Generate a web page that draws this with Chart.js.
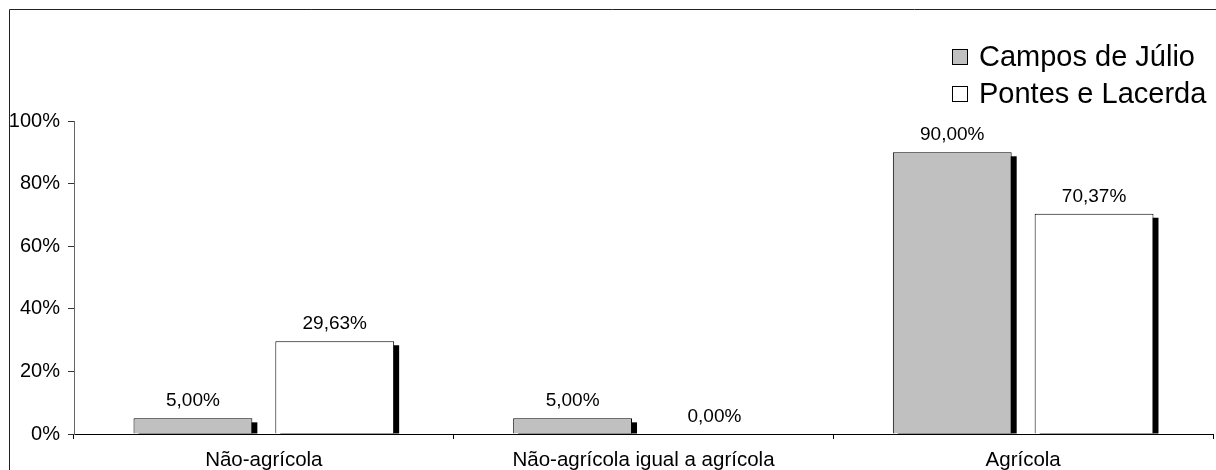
<!DOCTYPE html>
<html>
<head>
<meta charset="utf-8">
<script src="https://cdn.jsdelivr.net/npm/chart.js@4/dist/chart.umd.min.js"></script>
<style>
  html, body { margin: 0; padding: 0; background: #fff; }
  #wrap { width: 1216px; height: 470px; }
</style>
</head>
<body>
<div id="wrap"><canvas id="c" width="1216" height="470"></canvas></div>
<script>
// Categories and series values (percent)
const categories = ['Não-agrícola', 'Não-agrícola igual a agrícola', 'Agrícola'];
const seriesNames = ['Campos de Júlio', 'Pontes e Lacerda'];
const camposJulio = [5.00, 5.00, 90.00];
const pontesLacerda = [29.63, 0.00, 70.37];
const yTicks = [0, 20, 40, 60, 80, 100];

const FONT = "'Liberation Sans', Arial, sans-serif";
const fmtPct = v => v.toFixed(2).replace('.', ',') + '%';

// Thin frame along the top and left edges of the figure
const framePlugin = {
  id: 'frame',
  beforeDraw(chart) {
    const ctx = chart.ctx;
    ctx.save();
    ctx.fillStyle = '#fff';
    ctx.fillRect(0, 0, chart.width, chart.height);
    ctx.strokeStyle = '#222';
    ctx.lineWidth = 1;
    ctx.beginPath();
    ctx.moveTo(9.5, chart.height);
    ctx.lineTo(9.5, 9.5);
    ctx.lineTo(chart.width, 9.5);
    ctx.stroke();
    ctx.restore();
  }
};

// Black drop shadow to the lower right of each bar
const shadowPlugin = {
  id: 'barShadow',
  beforeDatasetsDraw(chart) {
    const ctx = chart.ctx;
    ctx.save();
    ctx.fillStyle = '#000';
    chart.data.datasets.forEach((ds, i) => {
      const meta = chart.getDatasetMeta(i);
      meta.data.forEach((el, j) => {
        if (!(ds.data[j] > 0)) return;
        const p = el.getProps(['x', 'y', 'base', 'width'], true);
        const h = p.base - p.y - 4;
        if (h <= 0) return;
        ctx.fillRect(p.x - p.width / 2 + 5, p.y + 4, p.width, h);
      });
    });
    ctx.restore();
  }
};

// Value labels above the bars
const valueLabelPlugin = {
  id: 'valueLabels',
  afterDatasetsDraw(chart) {
    const ctx = chart.ctx;
    ctx.save();
    ctx.font = '19px ' + FONT;
    ctx.fillStyle = '#000';
    ctx.textAlign = 'center';
    ctx.textBaseline = 'alphabetic';
    chart.data.datasets.forEach((ds, i) => {
      const meta = chart.getDatasetMeta(i);
      meta.data.forEach((el, j) => {
        const p = el.getProps(['x', 'y'], true);
        ctx.fillText(fmtPct(ds.data[j]), p.x, p.y - 12);
      });
    });
    ctx.restore();
  }
};

// Two-row legend in the upper right corner
const legendPlugin = {
  id: 'cornerLegend',
  afterDraw(chart) {
    const ctx = chart.ctx;
    ctx.save();
    ctx.font = '29px ' + FONT;
    ctx.textBaseline = 'alphabetic';
    ctx.textAlign = 'left';
    chart.data.datasets.forEach((ds, i) => {
      const cy = 57 + i * 37;
      ctx.fillStyle = ds.backgroundColor;
      ctx.fillRect(952.5, cy - 7.5, 15, 15);
      ctx.strokeStyle = '#000';
      ctx.lineWidth = 1;
      ctx.strokeRect(952.5, cy - 7.5, 15, 15);
      ctx.fillStyle = '#000';
      ctx.fillText(ds.label, 979, cy + 9);
    });
    ctx.restore();
  }
};

new Chart(document.getElementById('c'), {
  type: 'bar',
  data: {
    labels: categories,
    datasets: [
      {
        label: seriesNames[0],
        data: camposJulio,
        backgroundColor: '#C0C0C0',
        borderColor: '#000',
        borderWidth: 1,
        categoryPercentage: 0.747,
        barPercentage: 0.838
      },
      {
        label: seriesNames[1],
        data: pontesLacerda,
        backgroundColor: '#FFFFFF',
        borderColor: '#000',
        borderWidth: 1,
        categoryPercentage: 0.747,
        barPercentage: 0.838
      }
    ]
  },
  options: {
    responsive: false,
    animation: false,
    layout: { padding: { top: 121, right: 3, left: 0, bottom: 0 } },
    plugins: {
      legend: { display: false },
      tooltip: { enabled: false }
    },
    scales: {
      x: {
        grid: {
          offset: true,
          drawOnChartArea: false,
          drawTicks: true,
          tickLength: 5,
          color: '#000'
        },
        border: { display: true, color: '#000', width: 1 },
        ticks: {
          font: { family: FONT, size: 20.5 },
          color: '#000',
          padding: 9,
          maxRotation: 0,
          autoSkip: false
        },
        afterFit(scale) { scale.height = 36; }
      },
      y: {
        min: 0,
        max: 100,
        afterBuildTicks(scale) { scale.ticks = yTicks.map(v => ({ value: v })); },
        grid: {
          drawOnChartArea: false,
          drawTicks: true,
          tickLength: 6,
          color: '#333'
        },
        border: { display: true, color: '#666', width: 1 },
        ticks: {
          font: { family: FONT, size: 20 },
          color: '#000',
          padding: 8,
          callback: v => v + '%'
        },
        afterFit(scale) { scale.width = 74; }
      }
    }
  },
  plugins: [framePlugin, shadowPlugin, valueLabelPlugin, legendPlugin]
});
</script>
</body>
</html>
